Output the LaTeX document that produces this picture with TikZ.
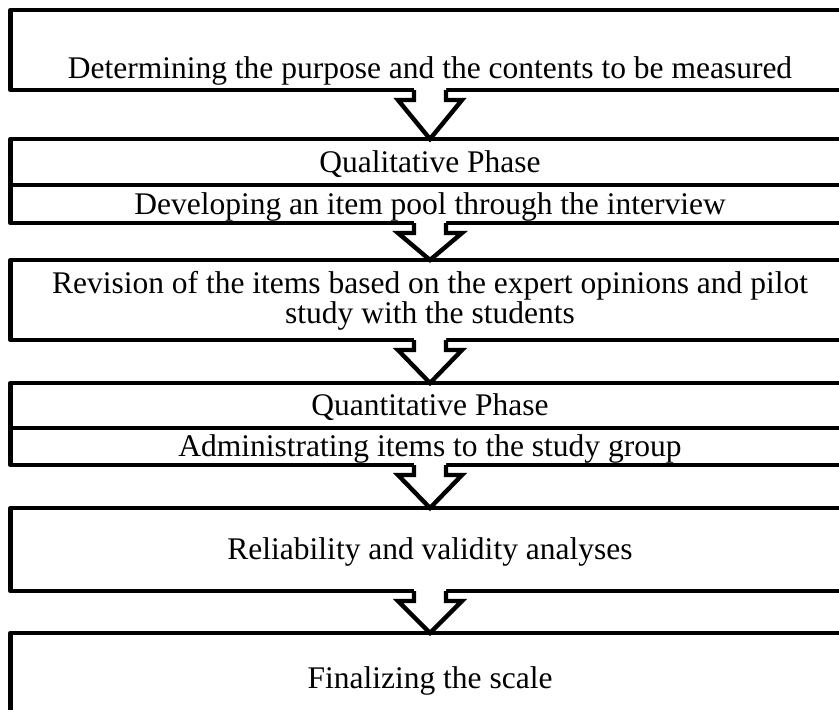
\documentclass[tikz,border=0pt]{standalone}
\usepackage{fontspec}
\setmainfont{Liberation Serif}
\usetikzlibrary{calc}

% hollow down arrow from the bottom of one box to the top of the next
\newcommand{\phasearrow}[2]{%
  \fill[white] ($(#1.south)+(-16,-4)$) -- ($(#1.south)+(-16,10)$) -- ($(#1.south)+(-32,10)$)
    -- (#2.north) -- ($(#1.south)+(32,10)$) -- ($(#1.south)+(16,10)$) -- ($(#1.south)+(16,-4)$) -- cycle;
  \draw[line width=2.2pt, line join=miter] ($(#1.south)+(-16,0)$) -- ($(#1.south)+(-16,10)$)
    -- ($(#1.south)+(-32,10)$) -- (#2.north) -- ($(#1.south)+(32,10)$)
    -- ($(#1.south)+(16,10)$) -- ($(#1.south)+(16,0)$);
}

\begin{document}
\begin{tikzpicture}[x=0.5pt, y=-0.5pt, font=\fontsize{15.75}{15}\selectfont]
  \useasboundingbox (0,0) rectangle (839,709);
  \clip (0,0) rectangle (839,709);
  \tikzstyle{stage}=[draw, line width=2.2pt, line join=round, minimum width=419.5pt, inner sep=0pt, outer sep=0pt]
  \tikzstyle{caption}=[anchor=base, inner sep=0pt, align=center]

  % stage boxes
  \node[stage, minimum height=40pt] (purpose) at (430,50) {};
  \node[stage, minimum height=42pt] (qual) at (430,181) {};
  \node[stage, minimum height=40pt] (revision) at (430,300) {};
  \node[stage, minimum height=41pt] (quant) at (430,424) {};
  \node[stage, minimum height=41.5pt] (analysis) at (430,549.5) {};
  \node[stage, minimum height=61pt] (final) at (430,694) {};

  % phase dividers
  \draw[line width=2.2pt] ($(qual.west)+(0,4)$) -- ($(qual.east)+(0,4)$);
  \draw[line width=2.2pt] ($(quant.west)+(0,4)$) -- ($(quant.east)+(0,4)$);

  % texts
  \node[caption] (tpurpose) at (430,78) {Determining the purpose and the contents to be measured};
  \node[caption] (tqual) at (430,172) {Qualitative Phase};
  \node[caption] (tpool) at (430,214) {Developing an item pool through the interview};
  \node[caption] (trevision) at (430,323) {Revision of the items based on the expert opinions and pilot\\study with the students};
  \node[caption] (tquant) at (430,415) {Quantitative Phase};
  \node[caption] (tadmin) at (430,456) {Administrating items to the study group};
  \node[caption] (tanalysis) at (430,559) {Reliability and validity analyses};
  \node[caption] (tfinal) at (430,688) {Finalizing the scale};

  % arrows between stages
  \phasearrow{purpose}{qual}
  \phasearrow{qual}{revision}
  \phasearrow{revision}{quant}
  \phasearrow{quant}{analysis}
  \phasearrow{analysis}{final}
\end{tikzpicture}
\end{document}
